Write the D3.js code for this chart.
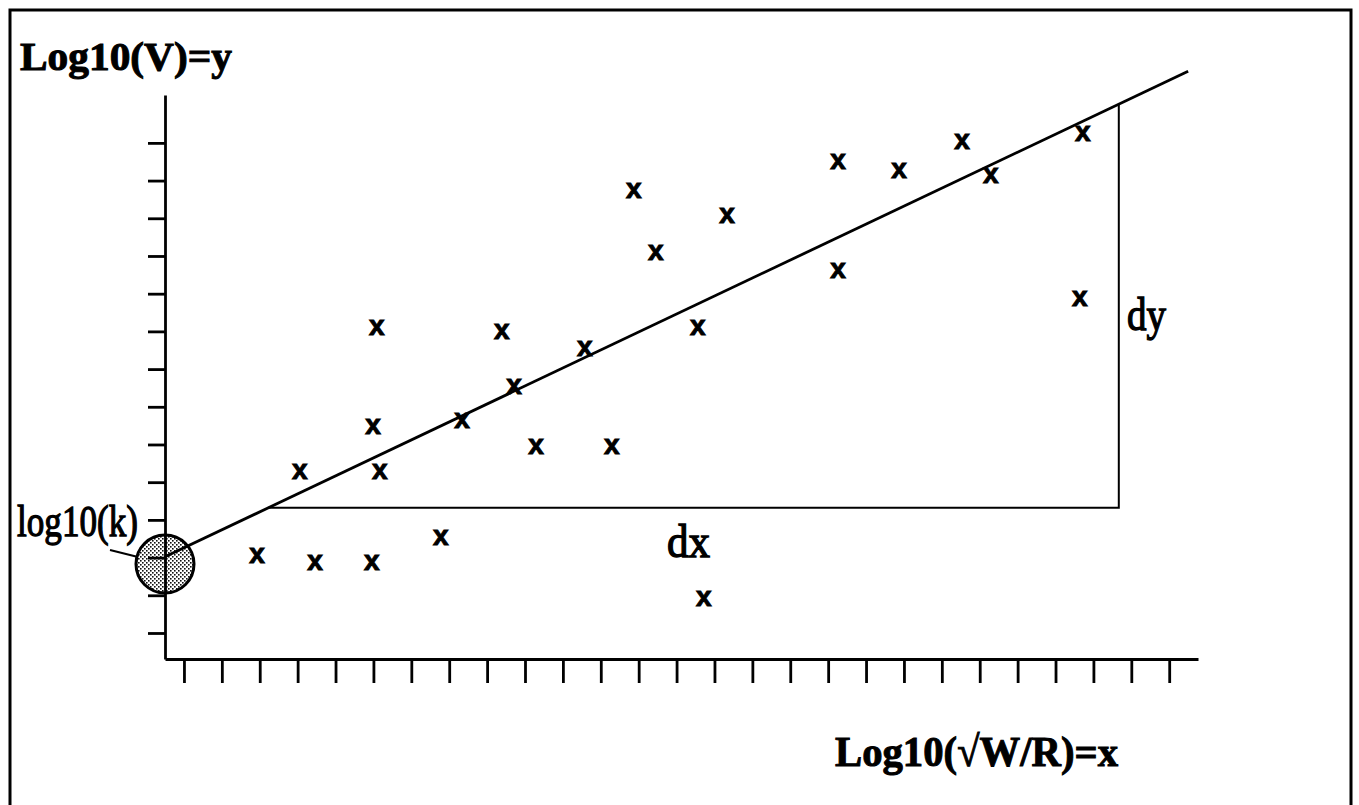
<!DOCTYPE html>
<html><head><meta charset="utf-8">
<script src="https://cdn.jsdelivr.net/npm/d3@7"></script>
<style>body{margin:0;background:#fff;overflow:hidden}</style>
</head><body>
<svg id="c" width="1359" height="805"></svg>
<script>
// Observations (in axis tick units)
const pointX = [1.93, 3.46, 4.96, 6.78, 3.06, 5.17, 4.99, 5.09, 7.34, 8.71, 8.39, 9.29, 10.58, 11.29, 11.87, 12.45, 13.56, 14.33, 13.72, 17.26, 17.26, 18.87, 20.53, 21.29, 23.72, 23.64];
const pointY = [2.04, 1.86, 1.86, 2.52, 4.27, 4.27, 5.46, 8.09, 5.62, 6.53, 7.98, 4.93, 7.53, 4.93, 11.72, 10.08, 8.09, 11.06, 0.90, 12.49, 9.60, 12.25, 13.02, 12.12, 13.24, 8.86];
const xTickValues = d3.range(0, 27);
const yTickValues = d3.range(0, 14);
// fitted line end points
const fitX = [-0.5, 26.5];
const fitY = [2.02, 14.9];
// intercept marker (log10(k))
const kX = -0.5, kY = 1.83;
// slope triangle
const triY = 3.32, triX = 24.67;
const yLabel = "Log10(V)=y";
const xLabel = "Log10(\u221AW/R)=x";

const svg = d3.select("#c");
const x = d3.scaleLinear().domain([-0.5, 26.76]).range([165, 1198]);
const y = d3.scaleLinear().domain([-0.69, 14.27]).range([659, 95]);

// border
svg.append("path").attr("d", "M10,805 L10,10 L1351,10 L1351,805")
  .attr("fill", "none").attr("stroke", "#000").attr("stroke-width", 3);

// stipple pattern
const defs = svg.append("defs");
const pat = defs.append("pattern").attr("id", "stip").attr("width", 4).attr("height", 4)
  .attr("patternUnits", "userSpaceOnUse");
pat.append("rect").attr("width", 4).attr("height", 4).attr("fill", "#fff");
pat.append("rect").attr("x", 0).attr("y", 0).attr("width", 1.6).attr("height", 1.6).attr("fill", "#111");
pat.append("rect").attr("x", 2).attr("y", 2).attr("width", 1.6).attr("height", 1.6).attr("fill", "#111");

svg.append("circle").attr("cx", x(kX)).attr("cy", y(kY)).attr("r", 29)
  .attr("fill", "url(#stip)").attr("stroke", "#000").attr("stroke-width", 3);

// axes
const gx = svg.append("g").attr("transform", `translate(0,${y.range()[0]})`)
  .call(d3.axisBottom(x).tickValues(xTickValues).tickSize(24).tickSizeOuter(0).tickFormat(""));
const gy = svg.append("g").attr("transform", `translate(${x.range()[0]},0)`)
  .call(d3.axisLeft(y).tickValues(yTickValues).tickSize(17).tickSizeOuter(0).tickFormat(""));
[gx, gy].forEach(g => {
  g.selectAll("path.domain").attr("stroke", "#000").attr("stroke-width", 2.8);
  g.selectAll(".tick line").attr("stroke", "#000").attr("stroke-width", 2.8);
});

// fit line
const line = d3.line().x(d => x(d[0])).y(d => y(d[1]));
svg.append("path").datum(fitX.map((v, i) => [v, fitY[i]]))
  .attr("d", line).attr("fill", "none").attr("stroke", "#000").attr("stroke-width", 2.8);

// slope triangle
const slope = (fitY[1] - fitY[0]) / (fitX[1] - fitX[0]);
const xAtTri = fitX[0] + (triY - fitY[0]) / slope;
const yAtTri = fitY[0] + (triX - fitX[0]) * slope;
svg.append("path").datum([[xAtTri, triY], [triX, triY], [triX, yAtTri]])
  .attr("d", line).attr("fill", "none").attr("stroke", "#000").attr("stroke-width", 2);

// leader line for log10(k)
const cx = x(kX), cy = y(kY);
svg.append("line").attr("x1", cx - 55).attr("y1", cy - 14).attr("x2", cx - 27).attr("y2", cy - 7)
  .attr("stroke", "#000").attr("stroke-width", 2.2);

// markers
const fs = 28;
svg.append("g").selectAll("text").data(pointX.map((v, i) => [v, pointY[i]])).join("text")
  .attr("x", d => x(d[0])).attr("y", d => y(d[1]) + 0.26 * fs)
  .attr("text-anchor", "middle")
  .attr("font-family", "Liberation Sans, Arial, sans-serif").attr("font-weight", "bold")
  .attr("font-size", fs).attr("stroke", "#000").attr("stroke-width", 1).text("x");

// labels
function label(t, px, py, size, weight, len, sw) {
  svg.append("text").attr("x", px).attr("y", py)
    .attr("font-family", "Liberation Serif, Times New Roman, serif")
    .attr("font-weight", weight).attr("font-size", size)
    .attr("stroke", "#000").attr("stroke-width", sw)
    .attr("textLength", len).attr("lengthAdjust", "spacingAndGlyphs").text(t);
}
label(yLabel, 20, 70, 41, "bold", 212, 1);
label(xLabel, 835, 766, 43, "bold", 283, 1);
label("log10(k)", 17, 536, 45, "normal", 121, 1.3);
label("dy", 1127, 330, 46, "normal", 39, 1.3);
label("dx", 667, 557, 46, "normal", 43, 1.3);
</script>
</body></html>
